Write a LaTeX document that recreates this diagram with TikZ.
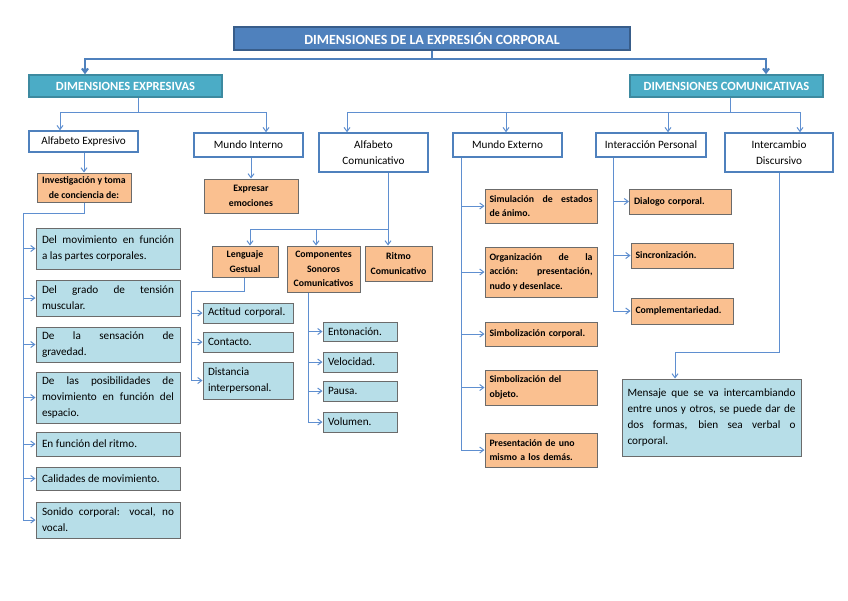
\documentclass[tikz,border=0pt]{standalone}
\usepackage{fontspec}
\setmainfont{Carlito}
\usetikzlibrary{arrows.meta}
\usetikzlibrary{calc}
\hyphenpenalty=10000
\exhyphenpenalty=10000

\definecolor{titleblue}{HTML}{4F81BD}
\definecolor{titleedge}{HTML}{385D8A}
\definecolor{dimteal}{HTML}{4BACC6}
\definecolor{dimedge}{HTML}{3D8AA0}
\definecolor{boxorange}{HTML}{FAC090}
\definecolor{boxblue}{HTML}{B7DEE8}
\definecolor{boxedge}{HTML}{6B6B6B}
\definecolor{linkblue}{HTML}{5F8FD0}

\tikzset{
  titlebox/.style={draw=titleedge, line width=1.5pt, fill=titleblue, text=white,
    font=\fontsize{14}{16}\selectfont\bfseries, inner sep=0pt},
  dimbox/.style={draw=dimedge, line width=1.5pt, fill=dimteal, text=white,
    font=\fontsize{12.5}{15}\selectfont\bfseries, inner sep=0pt},
  headbox/.style={draw=titleblue, line width=1.5pt, fill=white, align=center,
    font=\fontsize{11.2}{16}\selectfont, inner sep=0pt},
  orangebox/.style={draw=boxedge, line width=1pt, fill=boxorange,
    font=\fontsize{9.8}{14.5}\selectfont\bfseries, inner xsep=4.5pt, inner ysep=1pt},
  bluebox/.style={draw=boxedge, line width=1pt, fill=boxblue,
    font=\fontsize{11.2}{16}\selectfont, inner xsep=6pt, inner ysep=1pt},
  link/.style={draw=linkblue, line width=1pt},
  mainlink/.style={draw=titleblue, line width=2.2pt},
}

\begin{document}
\begin{tikzpicture}[x=1pt,y=-1pt,>={Straight Barb[length=4pt,width=6pt]}]
    \useasboundingbox (0,0) rectangle (848,600);

    % Title and main dimensions
    \node[titlebox, minimum width=396pt, minimum height=23pt] (title) at (432,38.5) {DIMENSIONES DE LA EXPRESIÓN CORPORAL};
    \node[dimbox, minimum width=193pt, minimum height=22pt] (dexp) at (125.5,86) {DIMENSIONES EXPRESIVAS};
    \node[dimbox, minimum width=193pt, minimum height=22pt] (dcom) at (726.5,86) {DIMENSIONES COMUNICATIVAS};

    \coordinate (jtop) at (432,59);
    \draw[mainlink] (title.south) -- (jtop);
    \draw[mainlink,->] (jtop) -| ([xshift=-40.5pt]dexp.north);
    \draw[mainlink,->] (jtop) -| ([xshift=39.5pt]dcom.north);

    % Second level
    \node[headbox, minimum width=109pt, minimum height=21pt] (ae) at (83.5,141.5) {Alfabeto Expresivo};
    \node[headbox, minimum width=109pt, minimum height=24pt] (mi) at (248.5,145) {Mundo Interno};
    \node[headbox, minimum width=109pt, minimum height=39pt] (ac) at (373.5,152.5) {Alfabeto\\Comunicativo};
    \node[headbox, minimum width=109pt, minimum height=24pt] (me) at (507.5,145) {Mundo Externo};
    \node[headbox, minimum width=110pt, minimum height=24pt] (ip) at (651,145) {Interacción Personal};
    \node[headbox, minimum width=108pt, minimum height=39pt] (id) at (779,152.5) {Intercambio\\Discursivo};

    \coordinate (jexp) at (138,112);
    \coordinate (jcom) at (730,112);
    \draw[link] ([xshift=12.5pt]dexp.south) -- (jexp);
    \draw[link,->] (jexp) -| ([xshift=-23.5pt]ae.north);
    \draw[link,->] (jexp) -| ([xshift=17.5pt]mi.north);
    \draw[link] ([xshift=3.5pt]dcom.south) -- (jcom);
    \draw[link,->] (jcom) -| ([xshift=-26.5pt]ac.north);
    \draw[link,->] (jcom) -| ([xshift=-1.5pt]me.north);
    \draw[link,->] (jcom) -| ([xshift=17pt]ip.north);
    \draw[link,->] (jcom) -| ([xshift=21pt]id.north);

    % Alfabeto Expresivo
    \node[orangebox, align=center, minimum width=94pt, minimum height=29pt] (inv) at (84,187.5) {Investigación y toma\\de conciencia de:};
    \draw[link,->] (inv.north |- ae.south) -- (inv.north);

    \node[bluebox, text width=132pt, align=justify, minimum height=41pt] (b1) at (108,248.5) {Del movimiento en función\linebreak a las partes corporales.};
    \node[bluebox, text width=132pt, align=justify, minimum height=36pt] (b2) at (108,298) {Del grado de tensión\linebreak muscular.};
    \node[bluebox, text width=132pt, align=justify, minimum height=35pt] (b3) at (108,344.5) {De la sensación de\linebreak gravedad.};
    \node[bluebox, text width=132pt, align=justify, minimum height=51pt] (b4) at (108,397.5) {De las posibilidades de\linebreak movimiento en función del\linebreak espacio.};
    \node[bluebox, text width=132pt, align=justify, minimum height=24pt] (b5) at (108,444) {En función del ritmo.};
    \node[bluebox, text width=132pt, align=justify, minimum height=23pt] (b6) at (108,478.5) {Calidades de movimiento.};
    \node[bluebox, text width=132pt, align=justify, minimum height=36pt] (b7) at (108,520) {Sonido corporal: vocal, no\linebreak vocal.};

    \coordinate (jinv) at (23,213);
    \draw[link] (inv.south) |- (jinv) -- (jinv |- b7.west);
    \foreach \bx in {b1,b2,b3,b4,b5,b6,b7}
        \draw[link,->] (jinv |- \bx.west) -- (\bx.west);

    % Mundo Interno
    \node[orangebox, align=center, minimum width=94pt, minimum height=34pt] (emo) at (251,196) {Expresar\\emociones};
    \draw[link,->] (emo.north |- mi.south) -- (emo.north);

    % Alfabeto Comunicativo
    \node[orangebox, align=center, minimum width=66pt, minimum height=31pt] (lg) at (245,261.5) {Lenguaje\\Gestual};
    \node[orangebox, align=center, minimum width=73pt, minimum height=46pt] (cs) at (323.5,269) {Componentes\\Sonoros\\Comunicativos};
    \node[orangebox, align=center, minimum width=67pt, minimum height=35pt] (rc) at (398.5,263.5) {Ritmo\\Comunicativo};

    \coordinate (jac) at (388,229);
    \draw[link] (jac |- ac.south) -- (jac);
    \draw[link,->] (jac) -| ([xshift=5pt]lg.north);
    \draw[link,->] (jac) -| ([xshift=-7.5pt]cs.north);
    \draw[link,->] (jac) -- (jac |- rc.north);

    % Lenguaje Gestual
    \node[bluebox, inner xsep=5pt, text width=80pt, align=left, minimum height=20pt] (ga) at (248,313) {Actitud corporal.};
    \node[bluebox, inner xsep=5pt, text width=80pt, align=left, minimum height=20pt] (gc) at (248,342) {Contacto.};
    \node[bluebox, inner xsep=5pt, text width=80pt, align=left, minimum height=37pt] (gd) at (248,380.5) {Distancia\\interpersonal.};

    \coordinate (jlg) at (191,291);
    \draw[link] ([xshift=-1pt]lg.south) |- (jlg) -- (jlg |- gd.west);
    \foreach \bx in {ga,gc,gd}
        \draw[link,->] (jlg |- \bx.west) -- (\bx.west);

    % Componentes Sonoros
    \node[bluebox, inner xsep=5pt, text width=64pt, align=left, minimum height=19pt] (ce) at (360,331.5) {Entonación.};
    \node[bluebox, inner xsep=5pt, text width=64pt, align=left, minimum height=20pt] (cv) at (360,362) {Velocidad.};
    \node[bluebox, inner xsep=5pt, text width=64pt, align=left, minimum height=20pt] (cp) at (360,391) {Pausa.};
    \node[bluebox, inner xsep=5pt, text width=64pt, align=left, minimum height=20pt] (cvo) at (360,422) {Volumen.};

    \coordinate (jcs) at ([xshift=-15.5pt]cs.south);
    \draw[link] (jcs) -- (jcs |- cvo.west);
    \foreach \bx in {ce,cv,cp,cvo}
        \draw[link,->] (jcs |- \bx.west) -- (\bx.west);

    % Mundo Externo
    \node[orangebox, text width=103pt, align=justify, minimum height=34pt] (m1) at (541,206) {Simulación de estados\linebreak de ánimo.};
    \node[orangebox, text width=103pt, align=justify, minimum height=50pt] (m2) at (541,272) {Organización de la\linebreak acción: presentación,\linebreak nudo y desenlace.};
    \node[orangebox, text width=103pt, align=left, minimum height=24pt] (m3) at (541,334) {Simbolización corporal.};
    \node[orangebox, text width=103pt, align=left, minimum height=35pt] (m4) at (541,387.5) {Simbolización del\\objeto.};
    \node[orangebox, text width=103pt, align=left, minimum height=34pt] (m5) at (541,450) {Presentación de uno\\mismo a los demás.};

    \coordinate (jme) at ([xshift=-46.5pt]me.south);
    \draw[link] (jme) -- (jme |- m5.west);
    \foreach \bx in {m1,m2,m3,m4,m5}
        \draw[link,->] (jme |- \bx.west) -- (\bx.west);

    % Interaccion Personal
    \node[orangebox, text width=93pt, align=left, minimum height=25pt] (p1) at (680.5,201.5) {Dialogo corporal.};
    \node[orangebox, text width=93pt, align=left, minimum height=25pt] (p2) at (682,255.5) {Sincronización.};
    \node[orangebox, text width=93pt, align=left, minimum height=26pt] (p3) at (682,311) {Complementariedad.};

    \coordinate (jip) at ([xshift=-38pt]ip.south);
    \draw[link] (jip) -- (jip |- p3.west);
    \foreach \bx in {p1,p2,p3}
        \draw[link,->] (jip |- \bx.west) -- (\bx.west);

    % Intercambio Discursivo
    \node[bluebox, inner xsep=5.5pt, text width=168pt, align=justify, minimum height=77pt] (msg) at (711.5,417.5) {Mensaje que se va intercambiando\linebreak entre unos y otros, se puede dar de\linebreak dos formas, bien sea verbal o\linebreak corporal.};

    \coordinate (jid) at (675,352);
    \draw[link,->] (id.south) |- (jid) -- (jid |- msg.north);
\end{tikzpicture}
\end{document}
